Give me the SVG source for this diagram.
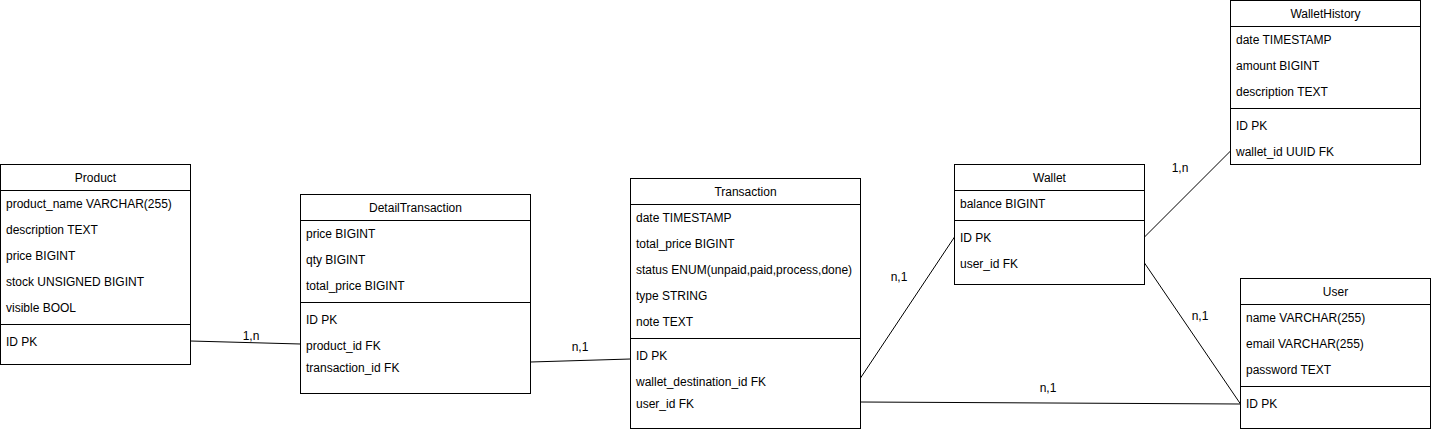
<svg xmlns="http://www.w3.org/2000/svg" width="1431" height="429" viewBox="0 0 1431 429">
<style>
.box{fill:#fff;stroke:#000;stroke-width:1}
.ln{stroke:#000;stroke-width:1;fill:none}
text{font-family:"Liberation Sans",Arial,sans-serif;font-size:12px;fill:#000}
.t{text-anchor:middle}
.lbl{text-anchor:middle}
</style>
<rect width="1431" height="429" fill="#fff"/>
<g id="connectors">
<line class="ln" x1="190.5" y1="341" x2="300.5" y2="344"/>
<text class="lbl" x="251" y="340">1,n</text>
<line class="ln" x1="530.5" y1="362" x2="630.5" y2="359"/>
<text class="lbl" x="580" y="351">n,1</text>
<line class="ln" x1="860.5" y1="378" x2="954.5" y2="237"/>
<text class="lbl" x="899" y="281">n,1</text>
<line class="ln" x1="860.5" y1="402" x2="1240.5" y2="404"/>
<text class="lbl" x="1048" y="392">n,1</text>
<line class="ln" x1="1144.5" y1="237" x2="1230.5" y2="151"/>
<text class="lbl" x="1180" y="172">1,n</text>
<line class="ln" x1="1144.5" y1="263" x2="1240.5" y2="404"/>
<text class="lbl" x="1200" y="320">n,1</text>
</g>
<g id="Product">
<rect class="box" x="0.5" y="164.5" width="190" height="200"/>
<line class="ln" x1="0.5" y1="190.5" x2="190.5" y2="190.5"/>
<line class="ln" x1="0.5" y1="324.5" x2="190.5" y2="324.5"/>
<text class="t" x="95.5" y="182">Product</text>
<text x="6" y="208">product_name VARCHAR(255)</text>
<text x="6" y="234">description TEXT</text>
<text x="6" y="260">price BIGINT</text>
<text x="6" y="286">stock UNSIGNED BIGINT</text>
<text x="6" y="312">visible BOOL</text>
<text x="6" y="346">ID PK</text>
</g>
<g id="DetailTransaction">
<rect class="box" x="300.5" y="194.5" width="230" height="199"/>
<line class="ln" x1="300.5" y1="220.5" x2="530.5" y2="220.5"/>
<line class="ln" x1="300.5" y1="302.5" x2="530.5" y2="302.5"/>
<text class="t" x="415.5" y="212">DetailTransaction</text>
<text x="306" y="238">price BIGINT</text>
<text x="306" y="264">qty BIGINT</text>
<text x="306" y="290">total_price BIGINT</text>
<text x="306" y="324">ID PK</text>
<text x="306" y="350">product_id FK</text>
<text x="306" y="372">transaction_id FK</text>
</g>
<g id="Transaction">
<rect class="box" x="630.5" y="178.5" width="230" height="250"/>
<line class="ln" x1="630.5" y1="204.5" x2="860.5" y2="204.5"/>
<line class="ln" x1="630.5" y1="338.5" x2="860.5" y2="338.5"/>
<text class="t" x="745.5" y="196">Transaction</text>
<text x="636" y="222">date TIMESTAMP</text>
<text x="636" y="248">total_price BIGINT</text>
<text x="636" y="274">status ENUM(unpaid,paid,process,done)</text>
<text x="636" y="300">type STRING</text>
<text x="636" y="326">note TEXT</text>
<text x="636" y="360">ID PK</text>
<text x="636" y="386">wallet_destination_id FK</text>
<text x="636" y="408">user_id FK</text>
</g>
<g id="Wallet">
<rect class="box" x="954.5" y="164.5" width="190" height="120"/>
<line class="ln" x1="954.5" y1="190.5" x2="1144.5" y2="190.5"/>
<line class="ln" x1="954.5" y1="220.5" x2="1144.5" y2="220.5"/>
<text class="t" x="1049.5" y="182">Wallet</text>
<text x="960" y="208">balance BIGINT</text>
<text x="960" y="242">ID PK</text>
<text x="960" y="268">user_id FK</text>
</g>
<g id="WalletHistory">
<rect class="box" x="1230.5" y="0.5" width="190" height="164"/>
<line class="ln" x1="1230.5" y1="26.5" x2="1420.5" y2="26.5"/>
<line class="ln" x1="1230.5" y1="108.5" x2="1420.5" y2="108.5"/>
<text class="t" x="1325.5" y="18">WalletHistory</text>
<text x="1236" y="44">date TIMESTAMP</text>
<text x="1236" y="70">amount BIGINT</text>
<text x="1236" y="96">description TEXT</text>
<text x="1236" y="130">ID PK</text>
<text x="1236" y="156">wallet_id UUID FK</text>
</g>
<g id="User">
<rect class="box" x="1240.5" y="278.5" width="190" height="150"/>
<line class="ln" x1="1240.5" y1="304.5" x2="1430.5" y2="304.5"/>
<line class="ln" x1="1240.5" y1="386.5" x2="1430.5" y2="386.5"/>
<text class="t" x="1335.5" y="296">User</text>
<text x="1246" y="322">name VARCHAR(255)</text>
<text x="1246" y="348">email VARCHAR(255)</text>
<text x="1246" y="374">password TEXT</text>
<text x="1246" y="408">ID PK</text>
</g>
</svg>
